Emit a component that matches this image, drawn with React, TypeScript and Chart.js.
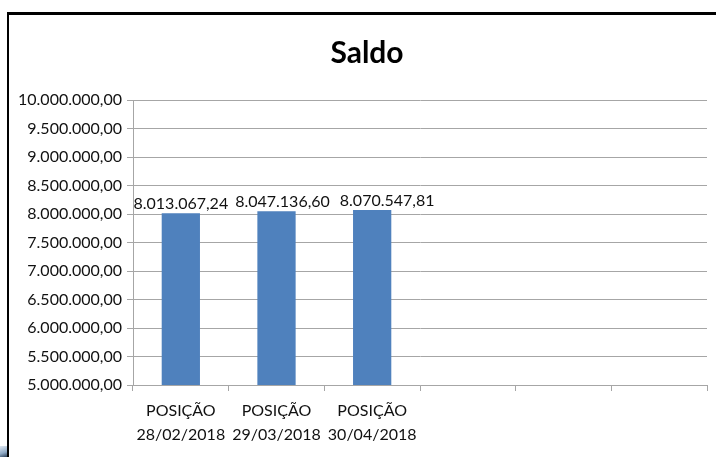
import React, { useEffect, useRef } from "react";
import { Chart, registerables } from "chart.js";

Chart.register(...registerables);

const TITLE = "Saldo";
const categories: string[][] = [
  ["POSIÇÃO", "28/02/2018"],
  ["POSIÇÃO", "29/03/2018"],
  ["POSIÇÃO", "30/04/2018"],
  [""],
  [""],
  [""],
];
const saldoValues: (number | null)[] = [8013067.24, 8047136.6, 8070547.81, null, null, null];
const yMin = 5000000;
const yMax = 10000000;
const yStep = 500000;

function fmtBR(v: number): string {
  const fixed = Math.abs(v).toFixed(2);
  const [intPart, dec] = fixed.split(".");
  const withDots = intPart.replace(/\B(?=(\d{3})+(?!\d))/g, ".");
  return (v < 0 ? "-" : "") + withDots + "," + dec;
}

const FONT = "Lato, 'Liberation Sans', Arial, sans-serif";
const GRID = "#A6A6A6";
const TEXT = "#111111";
// horizontal nudges of the data labels, as placed in the original
const LABEL_NUDGE = [0, 6, 15];

const dataLabelPlugin = {
  id: "dataLabels",
  afterDatasetsDraw(chart: any) {
    const ctx = chart.ctx;
    const meta = chart.getDatasetMeta(0);
    ctx.save();
    ctx.font = `16px ${FONT}`;
    ctx.fillStyle = TEXT;
    ctx.textAlign = "center";
    ctx.textBaseline = "bottom";
    meta.data.forEach((bar: any, i: number) => {
      const v = saldoValues[i];
      if (v == null) return;
      ctx.fillText(fmtBR(v), bar.x + (LABEL_NUDGE[i] || 0), bar.y - 1);
    });
    ctx.restore();
  },
};

const titlePlugin = {
  id: "customTitle",
  afterDraw(chart: any) {
    const ctx = chart.ctx;
    ctx.save();
    ctx.font = `bold 30px ${FONT}`;
    ctx.fillStyle = "#000";
    ctx.textAlign = "center";
    ctx.textBaseline = "middle";
    ctx.fillText(TITLE, 367, 53);
    ctx.restore();
  },
};

export default function App() {
  const ref = useRef<HTMLCanvasElement>(null);
  useEffect(() => {
    if (!ref.current) return;
    const chart = new Chart(ref.current, {
      type: "bar",
      data: {
        labels: categories,
        datasets: [
          {
            label: TITLE,
            data: saldoValues,
            backgroundColor: "#4F81BD",
            borderWidth: 0,
            barPercentage: 0.4,
            categoryPercentage: 1,
          },
        ],
      },
      options: {
        responsive: false,
        animation: false,
        layout: { padding: { left: 0, right: 9, top: 0, bottom: 0 } },
        plugins: {
          legend: { display: false },
          tooltip: { enabled: false },
          title: {
            display: true,
            text: TITLE,
            color: "rgba(0,0,0,0)",
            font: { family: FONT, size: 30, weight: "bold", lineHeight: 1.2 },
            padding: { top: 35, bottom: 29 },
          },
        },
        scales: {
          x: {
            offset: true,
            grid: {
              display: true,
              offset: true,
              drawOnChartArea: false,
              drawTicks: true,
              tickLength: 6,
              color: GRID,
            },
            border: { display: true, color: GRID, width: 1 },
            ticks: {
              color: TEXT,
              font: { family: FONT, size: 16, lineHeight: 1.5 },
              padding: 8,
              maxRotation: 0,
              autoSkip: false,
            },
            afterFit(scale: any) {
              scale.height = 72;
            },
          },
          y: {
            min: yMin,
            max: yMax,
            grid: { color: GRID, tickLength: 6, drawTicks: true },
            border: { display: true, color: GRID, width: 1 },
            ticks: {
              stepSize: yStep,
              color: TEXT,
              font: { family: FONT, size: 16 },
              padding: 5,
              callback: (v: any) => fmtBR(Number(v)),
            },
            afterFit(scale: any) {
              scale.width = 133;
            },
          },
        },
      },
      plugins: [dataLabelPlugin, titlePlugin],
    });
    return () => chart.destroy();
  }, []);

  return (
    <div style={{ position: "fixed", left: 0, top: 0, width: 716, height: 457, background: "#fff", overflow: "hidden" }}>
      <canvas ref={ref} width={716} height={457} style={{ width: 716, height: 457, display: "block" }} />
      <div style={{ position: "absolute", left: 7, top: 12, width: 709, height: 3, background: "#000" }} />
      <div style={{ position: "absolute", left: 7, top: 12, width: 2, height: 445, background: "#000" }} />
      <div style={{ position: "absolute", left: 0, top: 446, width: 7, height: 11, background: "linear-gradient(160deg, #dfe8f2 0%, #8fa9c4 60%, #2b3f57 100%)" }} />
    </div>
  );
}
